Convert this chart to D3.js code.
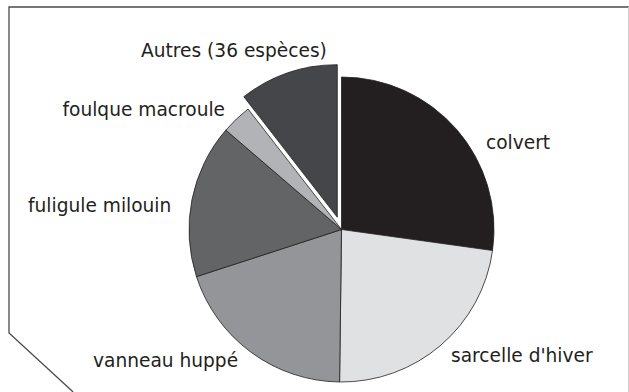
<!DOCTYPE html>
<html>
<head>
<meta charset="utf-8">
<script src="https://cdn.jsdelivr.net/npm/d3@7"></script>
<style>
  html, body { margin: 0; padding: 0; background: #fff; }
  svg { display: block; }
  text { font-family: "DejaVu Sans", Verdana, sans-serif; fill: #231f20; }
</style>
</head>
<body>
<svg id="chart" width="629" height="392"></svg>
<script>
// Répartition des oiseaux d'eau hivernants (en %)
const species = ["colvert", "sarcelle d'hiver", "vanneau huppé", "fuligule milouin", "foulque macroule", "Autres (36 espèces)"];
const shares  = [27.2, 23.0, 19.8, 16.3, 3.2, 10.5];
const fills   = ["#231f20", "#e0e1e3", "#939598", "#636466", "#b1b3b6", "#454649"];
const exploded = ["Autres (36 espèces)"];

const svg = d3.select("#chart");
const W = 629, H = 392;
const cx = 341.5, cy = 229.5, R = 152.5, pullOut = 13;

// frame: top edge, left edge and the clipped lower-left corner
const line = d3.line();
svg.append("path")
  .attr("d", line([[W, 7], [9, 7], [9, 333], [9 + (H - 333) * 62.4 / 57.4, H]]))
  .attr("fill", "none").attr("stroke", "#4a4a4a").attr("stroke-width", 1.3);
svg.append("line")
  .attr("x1", 628.5).attr("x2", 628.5).attr("y1", 7).attr("y2", H)
  .attr("stroke", "#cfcfcf").attr("stroke-width", 1);

const data = species.map((s, i) => ({ name: s, value: shares[i], fill: fills[i] }));
const pie = d3.pie().value(d => d.value).sort(null).startAngle(0).endAngle(2 * Math.PI);
const arc = d3.arc().innerRadius(0).outerRadius(R);

const g = svg.append("g").attr("transform", `translate(${cx},${cy})`);
g.selectAll("path.slice")
  .data(pie(data))
  .join("path")
  .attr("class", "slice")
  .attr("d", arc)
  .attr("fill", d => d.data.fill)
  .attr("stroke", "#231f20")
  .attr("stroke-width", 0.8)
  .attr("stroke-linejoin", "round")
  .attr("transform", d => {
    if (!exploded.includes(d.data.name)) return null;
    const a = (d.startAngle + d.endAngle) / 2;
    return `translate(${pullOut * Math.sin(a)},${-pullOut * Math.cos(a)})`;
  });

// hand-placed labels (left x, baseline y)
const labelAt = {
  "colvert": [486, 148.5],
  "sarcelle d'hiver": [451, 362],
  "vanneau huppé": [93, 366.5],
  "fuligule milouin": [28, 211.5],
  "foulque macroule": [62.5, 115.5],
  "Autres (36 espèces)": [141, 56.5]
};
svg.selectAll("text.lbl")
  .data(data)
  .join("text")
  .attr("class", "lbl")
  .attr("x", d => labelAt[d.name][0])
  .attr("y", d => labelAt[d.name][1])
  .attr("font-size", 18.6)
  .text(d => d.name);
</script>
</body>
</html>
